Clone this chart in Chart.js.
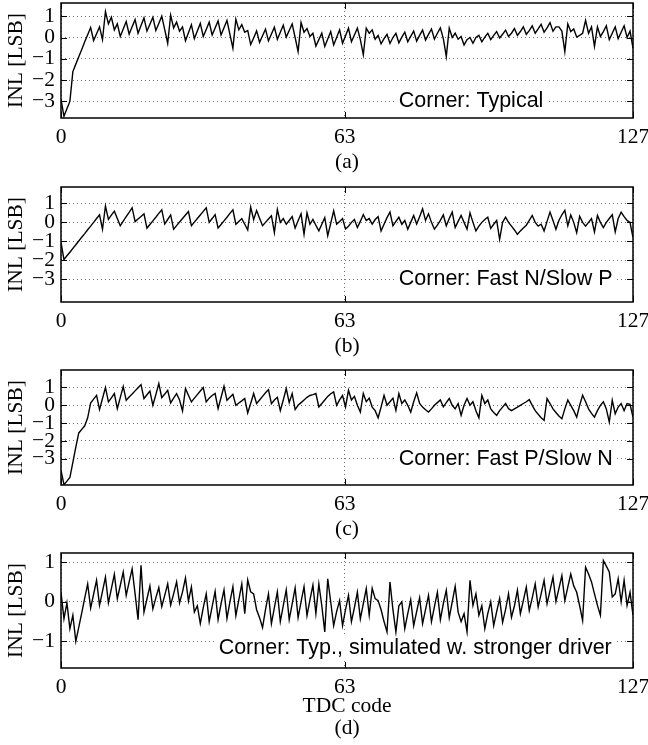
<!DOCTYPE html>
<html>
<head>
<meta charset="utf-8">
<script src="https://cdn.jsdelivr.net/npm/chart.js@4.4.1/dist/chart.umd.min.js"></script>
<style>
  html, body { margin: 0; padding: 0; background: #fff; }
  #wrap { position: relative; width: 648px; height: 745px; }
  canvas { position: absolute; left: 0; }
</style>
</head>
<body>
<div id="wrap">
  <canvas id="pa" width="648" height="173" style="top:0px"></canvas>
  <canvas id="pb" width="648" height="173" style="top:184px"></canvas>
  <canvas id="pc" width="648" height="173" style="top:367px"></canvas>
  <canvas id="pd" width="648" height="189" style="top:550px"></canvas>
</div>
<script>
// samples span TDC codes 0..127
const N = 194;
const codes = Array.from({ length: N }, (_, i) => i * 127 / (N - 1));
const xTicks = [0, 63, 127];
const yTicksWide = [-3, -2, -1, 0, 1];
const yTicksD = [-1, 0, 1];

const inlA = [
  -2.9, -3.7, -3.35, -3.0, -1.6, -1.25, -0.9, -0.56, -0.2, 0.13,
  0.47, -0.14, 0.18, 0.5, -0.1, 1.22, 0.64, 0.95, 0.36, 0.64,
  0.05, 0.4, 0.75, 0.16, 0.5, 0.84, 0.2, 0.56, 0.92, 0.3,
  0.62, 0.95, 0.33, 0.66, 1.0, 0.37, -0.27, 1.05, 0.45, 0.72,
  0.3, 0.5, -0.15, 0.22, 0.6, -0.05, 0.3, 0.66, 0.05, 0.38,
  0.72, 0.12, 0.45, 0.78, 0.12, 0.46, 0.8, 0.15, -0.5, 0.86,
  0.36, 0.6, 0.25, 0.33, -0.33, -0.02, 0.31, -0.23, 0.08, 0.39,
  -0.16, 0.16, 0.48, -0.08, 0.25, 0.58, 0.02, 0.33, 0.64, 0.0,
  -0.66, 0.7, 0.25, 0.42, 0.05, 0.2, -0.4, -0.1, 0.2, -0.42,
  -0.07, 0.28, -0.35, 0.0, 0.36, -0.27, 0.08, 0.44, -0.2, 0.12,
  0.44, -0.1, -0.81, 0.44, 0.2, 0.36, -0.08, 0.1, -0.3, -0.05,
  0.15, -0.28, 0.0, 0.2, -0.25, 0.02, 0.25, -0.2, 0.05, 0.3,
  -0.17, 0.1, 0.35, -0.12, 0.15, 0.4, -0.08, 0.2, 0.45, -0.05,
  -0.89, 0.44, 0.0, 0.2, -0.08, 0.05, -0.35, -0.1, 0.0, -0.27,
  0.0, 0.1, -0.2, 0.02, 0.2, -0.1, 0.1, 0.28, -0.02, 0.15,
  0.35, 0.05, 0.2, 0.42, 0.1, 0.28, 0.5, 0.15, 0.32, 0.55,
  0.2, 0.4, 0.62, 0.25, 0.45, 0.7, 0.3, 0.5, 0.5, 0.3,
  -0.66, 0.64, 0.28, 0.4, 0.02, 0.1, 0.2, 0.8, 0.2, 0.5,
  -0.42, 0.5, 0.05, 0.28, 0.55, -0.1, 0.2, 0.5, -0.05, 0.25,
  0.55, 0.0, 0.3, -0.5
];

const inlB = [
  -1.05, -1.96, -1.76, -1.57, -1.37, -1.18, -0.98, -0.78, -0.59, -0.39,
  -0.2, 0.0, 0.2, 0.39, -0.36, 0.86, 0.16, 0.38, 0.59, 0.2,
  -0.18, 0.06, 0.3, 0.53, 0.77, 0.04, 0.18, 0.31, 0.45, -0.3,
  -0.11, 0.08, 0.27, 0.47, 0.66, -0.09, 0.15, 0.39, -0.36, -0.17,
  0.02, 0.2, 0.39, 0.57, -0.18, 0.01, 0.2, 0.39, 0.58, 0.77,
  0.0, 0.2, 0.41, -0.3, -0.11, 0.08, 0.27, 0.47, 0.66, -0.1,
  0.05, 0.2, -0.1, -0.4, 0.8, 0.14, 0.62, 0.22, -0.18, 0.0,
  0.18, 0.35, -0.54, 0.68, 0.0, 0.2, -0.1, 0.1, 0.3, -0.3,
  0.08, 0.45, -0.63, 0.5, -0.1, 0.15, -0.15, -0.45, -0.1, 0.25,
  -0.7, -0.05, 0.6, -0.1, 0.05, 0.2, -0.35, -0.2, 0.0, 0.15,
  -0.27, 0.05, 0.41, 0.1, 0.2, -0.09, 0.15, 0.3, -0.45, -0.1,
  0.25, 0.54, -0.18, 0.05, 0.27, -0.1, 0.1, -0.36, 0.0, 0.36,
  -0.09, 0.3, 0.71, 0.1, 0.45, 0.0, -0.36, -0.15, 0.1, 0.39,
  -0.18, 0.2, 0.54, -0.27, 0.05, 0.36, 0.0, -0.36, 0.5, 0.0,
  -0.45, -0.2, 0.0, 0.15, 0.27, -0.32, -0.1, 0.1, -0.89, 0.0,
  0.27, 0.0, -0.2, -0.4, -0.63, -0.45, -0.3, -0.15, 0.1, 0.36,
  0.0, -0.2, -0.1, -0.45, 0.05, 0.54, 0.1, -0.36, 0.1, 0.4,
  0.63, -0.18, 0.39, 0.0, -0.54, 0.32, 0.0, -0.2, 0.0, 0.2,
  -0.5, 0.36, 0.0, -0.27, 0.0, 0.2, 0.4, -0.5, 0.2, 0.54,
  0.3, 0.1, 0.0, -0.8
];

const inlC = [
  -3.65, -4.45, -4.25, -4.05, -3.2, -2.35, -1.55, -1.35, -1.15, -0.7,
  0.13, 0.35, 0.56, -0.24, 0.38, 1.0, 0.19, 0.42, 0.66, -0.19,
  0.43, 1.05, 0.28, 0.46, 0.63, 0.81, 0.98, 1.16, 0.38, 0.59,
  0.8, 0.0, 0.6, 1.22, 0.43, 0.63, 0.84, 0.13, 0.4, 0.65,
  0.3, -0.32, 0.94, 0.56, 0.19, 0.4, 0.6, 0.8, 1.0, 0.19,
  0.4, 0.55, 0.66, -0.19, 0.44, 1.07, 0.28, 0.45, 0.62, 0.0,
  0.13, 0.25, 0.38, -0.43, 0.1, 0.66, 0.1, 0.3, 0.5, 0.7,
  0.88, 0.09, 0.3, 0.45, -0.3, 0.3, 0.94, 0.15, 0.66, -0.24,
  0.0, 0.15, 0.3, 0.45, 0.55, 0.6, 0.66, -0.09, 0.1, 0.3,
  0.5, 0.65, 0.75, 0.0, 0.3, 0.55, -0.09, 0.84, 0.3, 0.5,
  0.0, -0.38, 0.66, 0.2, 0.4, -0.1, -0.3, -0.7, -0.1, 0.56,
  0.0, 0.2, 0.4, -0.28, 0.66, 0.1, 0.3, 0.0, -0.38, 0.2,
  0.7, 0.1, -0.1, -0.25, -0.38, -0.2, 0.0, 0.15, 0.3, -0.09,
  0.15, 0.38, 0.0, -0.2, 0.1, -0.56, 0.0, 0.38, 0.0, 0.2,
  -0.3, -0.7, 0.56, 0.1, 0.3, -0.2, -0.4, -0.56, -0.3, -0.1,
  0.1, -0.19, -0.3, -0.2, -0.1, 0.0, 0.1, 0.2, 0.32, 0.0,
  -0.3, -0.5, -0.7, -0.84, 0.38, 0.1, -0.2, -0.4, -0.6, -0.75,
  -0.2, 0.3, 0.0, -0.3, -0.66, 0.0, 0.56, 0.2, -0.2, -0.45,
  -0.66, -0.3, 0.0, 0.2, -0.2, -0.94, 0.28, -0.47, -0.1, 0.1,
  -0.3, 0.1, 0.05, -0.66
];

const inlD = [
  0.24, -0.43, -0.03, -0.68, -0.34, -1.0, -0.64, -0.28, 0.09, 0.45,
  -0.16, 0.19, 0.54, -0.09, 0.26, 0.62, -0.03, 0.33, 0.69, 0.08,
  0.41, 0.75, 0.16, 0.5, 0.83, 0.2, -0.45, 0.92, -0.26, 0.07,
  0.4, -0.18, 0.1, 0.36, -0.12, 0.16, 0.45, -0.08, 0.2, 0.5,
  -0.03, 0.25, 0.6, 0.02, 0.37, -0.26, -0.1, -0.55, -0.15, 0.2,
  -0.5, -0.12, 0.26, -0.45, -0.05, 0.3, -0.42, 0.0, 0.38, -0.35,
  0.05, 0.45, -0.3, 0.55, 0.25, 0.2, -0.2, -0.4, -0.65, -0.2,
  0.2, -0.55, -0.15, 0.25, -0.5, -0.1, 0.3, -0.45, -0.05, 0.35,
  -0.4, 0.0, 0.38, -0.35, 0.05, 0.42, -0.3, 0.45, -0.1, -0.76,
  0.58, 0.0, -0.6, -0.25, 0.03, -0.6, -0.2, 0.16, -0.5, -0.15,
  0.24, -0.43, -0.05, 0.33, -0.34, 0.34, 0.08, 0.03, -0.2, -0.5,
  -0.76, 0.5, -0.2, -0.76, -0.1, 0.0, -0.68, -0.3, 0.05, -0.6,
  -0.25, 0.1, -0.55, -0.2, 0.16, -0.5, -0.12, 0.24, -0.45, -0.05,
  0.29, -0.4, 0.0, 0.39, -0.26, -0.5, -0.3, -0.76, 0.54, -0.09,
  0.2, -0.34, -0.1, -0.68, -0.3, 0.0, -0.6, -0.25, 0.08, -0.52,
  -0.2, 0.2, -0.39, -0.1, 0.29, -0.3, 0.03, 0.37, -0.22, 0.1,
  0.45, -0.13, 0.2, 0.54, -0.05, 0.28, 0.62, 0.01, 0.33, 0.66,
  0.03, 0.37, 0.7, 0.4, 0.24, -0.1, -0.47, 0.87, 0.7, 0.5,
  0.2, -0.09, -0.34, 1.04, 0.9, 0.75, 0.12, 0.2, 0.58, 0.0,
  0.54, -0.09, 0.24, -0.34
];

const SERIF = "'Liberation Serif', 'Times New Roman', serif";
const SANS = "'Liberation Sans', Arial, sans-serif";
const FS = 21.5;

// closed box, inward tick marks and the corner label
const frame = {
  id: 'frame',
  afterDatasetsDraw(chart, args, opts) {
    const { ctx, chartArea: a, scales: { x, y } } = chart;
    ctx.save();
    ctx.strokeStyle = '#000';
    ctx.lineWidth = 1;
    ctx.beginPath();
    y.ticks.forEach(t => {
      const py = Math.round(y.getPixelForValue(t.value)) + 0.5;
      ctx.moveTo(a.left, py); ctx.lineTo(a.left + 6, py);
      ctx.moveTo(a.right, py); ctx.lineTo(a.right - 6, py);
    });
    x.ticks.forEach(t => {
      const px = Math.round(x.getPixelForValue(t.value)) + 0.5;
      ctx.moveTo(px, a.bottom); ctx.lineTo(px, a.bottom - 6);
      ctx.moveTo(px, a.top); ctx.lineTo(px, a.top + 6);
    });
    ctx.stroke();

    ctx.font = FS + 'px ' + SANS;
    const tx = x.getPixelForValue(opts.x);
    const ty = y.getPixelForValue(opts.y);
    const w = ctx.measureText(opts.text).width;
    ctx.fillStyle = '#fff';
    ctx.fillRect(tx - 3, ty - 12, w + 6, 24);
    ctx.fillStyle = '#000';
    ctx.textBaseline = 'middle';
    ctx.fillText(opts.text, tx, ty);

    ctx.lineWidth = 1.5;
    ctx.strokeRect(a.left, a.top, a.right - a.left, a.bottom - a.top);
    ctx.restore();
  }
};

function panel(id, values, yMin, yMax, yTicks, note, noteX, noteY, title, axisH) {
  const font = { family: SERIF, size: FS };
  const gridStyle = { color: 'rgba(0,0,0,0.55)', lineWidth: 1, drawTicks: false };
  const borderStyle = { display: false, dash: [1, 3] };
  new Chart(document.getElementById(id), {
    type: 'line',
    data: {
      datasets: [{
        data: codes.map((c, i) => ({ x: c, y: values[i] })),
        borderColor: '#000',
        borderWidth: 1.4,
        pointRadius: 0,
        tension: 0,
        fill: false
      }]
    },
    options: {
      responsive: false,
      animation: false,
      devicePixelRatio: 1,
      layout: { padding: { top: 3, right: 15, left: 0, bottom: 0 } },
      plugins: {
        legend: { display: false },
        tooltip: { enabled: false },
        frame: { text: note, x: noteX, y: noteY }
      },
      scales: {
        x: {
          type: 'linear',
          min: 0,
          max: 127,
          afterBuildTicks: s => { s.ticks = xTicks.map(v => ({ value: v })); },
          afterFit: s => { s.height = axisH; s.paddingLeft = 0; s.paddingRight = 0; },
          grid: gridStyle,
          border: borderStyle,
          ticks: { color: '#000', font: font, padding: 6, maxRotation: 0, autoSkip: false },
          title: { display: true, text: title, color: '#000', font: { family: SERIF, size: FS, lineHeight: 1 }, padding: 0 }
        },
        y: {
          type: 'linear',
          min: yMin,
          max: yMax,
          afterBuildTicks: s => { s.ticks = yTicks.map(v => ({ value: v })); },
          afterFit: s => { s.width = 61; s.paddingTop = 0; s.paddingBottom = 0; },
          grid: gridStyle,
          border: borderStyle,
          ticks: {
            color: '#000', font: font, padding: 6, autoSkip: false,
            callback: v => v < 0 ? '\u2212' + Math.abs(v) : String(v)
          },
          title: { display: true, text: 'INL [LSB]', color: '#000', font: font, padding: { top: 3, bottom: 0 } }
        }
      }
    },
    plugins: [frame]
  });
}

panel('pa', inlA, -3.78, 1.62, yTicksWide, 'Corner: Typical', 75, -3, '(a)', 55);
panel('pb', inlB, -4.19, 1.86, yTicksWide, 'Corner: Fast N/Slow P', 75, -3, '(b)', 55);
panel('pc', inlC, -4.47, 1.98, yTicksWide, 'Corner: Fast P/Slow N', 75, -3, '(c)', 55);
panel('pd', inlD, -1.67, 1.23, yTicksD, 'Corner: Typ., simulated w. stronger driver', 35, -1.18, ['TDC code', '(d)'], 71);
</script>
</body>
</html>
